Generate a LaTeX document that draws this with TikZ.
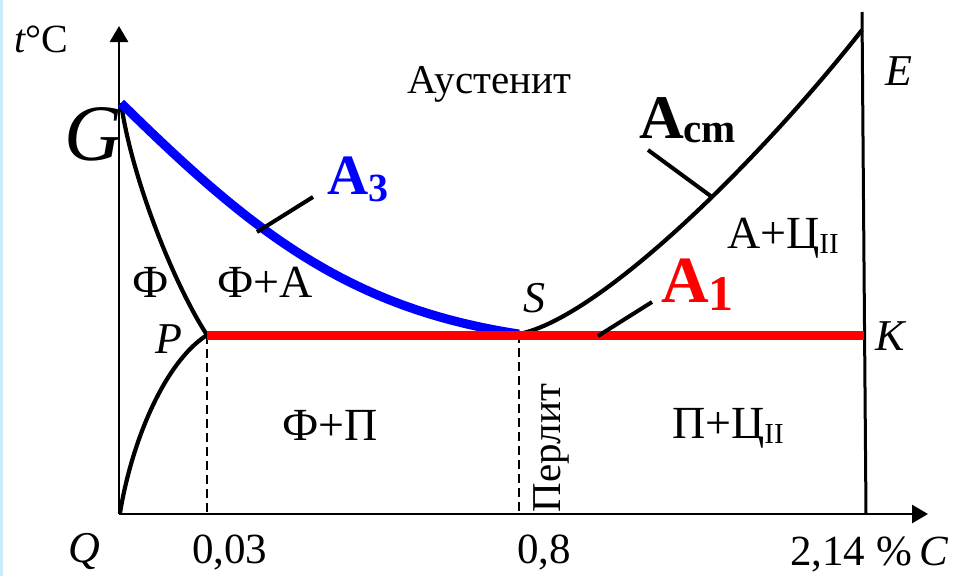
\documentclass[tikz,border=0pt]{standalone}
\usepackage{fontspec}
\usepackage{graphicx}
\setmainfont{Liberation Serif}
\usetikzlibrary{arrows.meta}
\newcommand{\fsz}[1]{\fontsize{#1}{#1}\selectfont}
\definecolor{edgeblue}{RGB}{200,236,250}
\definecolor{ablue}{RGB}{0,0,255}
\definecolor{ared}{RGB}{255,0,0}
\begin{document}
\begin{tikzpicture}[x=1pt,y=-1pt,
  axis/.style={line width=2.8pt,-{Triangle[length=16pt,width=18pt]}},
  curve/.style={line width=4.2pt},
  dashline/.style={line width=2.4pt,dash pattern=on 9pt off 5pt},
  thickblue/.style={line width=9pt,ablue},
  thickred/.style={line width=9pt,ared},
  leader/.style={line width=4pt},
  lbl/.style={inner sep=0pt,outer sep=0pt,anchor=base west,font=\fsz{46}},
  nlbl/.style={inner sep=0pt,outer sep=0pt,anchor=base west,font=\fsz{43}},
  ilbl/.style={inner sep=0pt,outer sep=0pt,anchor=base west,font=\fsz{44}\itshape},
  big/.style={inner sep=0pt,outer sep=0pt,anchor=base west}]
\useasboundingbox (0,0) rectangle (975,576);
\fill[white] (0,0) rectangle (975,576);
\fill[edgeblue] (0,0) rectangle (3,576);

% key points
\coordinate (O) at (119,514);
\coordinate (Ytip) at (119,26);
\coordinate (Xtip) at (928,514);
\coordinate (G) at (121,103);
\coordinate (P) at (207,335);
\coordinate (S) at (519,334);
\coordinate (K) at (864,335);
\coordinate (E) at (862,30);
\coordinate (Etop) at (862,12);
\coordinate (Kbot) at (866,514);
\coordinate (Pb) at (207,514);
\coordinate (Sb) at (519,514);
\coordinate (Q) at (120,513);

% axes
\draw[axis] (O) -- (Ytip);
\draw[axis] (O) -- (Xtip);

% dashed verticals
\draw[dashline] (P) -- (Pb);
\draw[dashline] (S) -- (Sb);

% black lines
\draw[curve] (G) .. controls (132,180) and (175,286) .. (P);
\draw[curve] (Q) .. controls (132,440) and (165,362) .. (P);
\draw[curve] (S) .. controls (600,318) and (760,160) .. (E);
\draw[line width=3pt] (Etop) -- (Kbot);

% A3 and A1
\draw[thickblue] (G) .. controls (252,232) and (348,308) .. (S);
\draw[thickred] (P) -- (K);

% leaders
\coordinate (l3a) at (257,232); \coordinate (l3b) at (313,197);
\coordinate (lca) at (648,150); \coordinate (lcb) at (712,197);
\coordinate (l1a) at (598,336); \coordinate (l1b) at (652,302);
\draw[leader] (l3a) -- (l3b);
\draw[leader] (lca) -- (lcb);
\draw[leader] (l1a) -- (l1b);

% labels
\node[big,font=\fsz{40}] (tC) at (14,52) {\textit{t}°C};
\node[big,font=\fsz{80}\itshape] (Glbl) at (64,160) {G};
\node[big,font=\fsz{41}] (aus) at (407,93) {Аустенит};
\node[big,font=\fsz{57}\bfseries,text=ablue] (A3) at (327,194) {A\raisebox{-7pt}{\fsz{40}3}};
\node[big,font=\fsz{62}\bfseries] (Acm) at (639,138) {A\raisebox{-4pt}{\fsz{41}cm}};
\node[big,font=\fsz{66}\bfseries,text=ared] (A1) at (661,302) {A\raisebox{-8pt}{\fsz{50}1}};
\node[lbl] (AC) at (727,248) {А+Ц\raisebox{-5pt}{\fsz{29}II}};
\node[lbl] (F) at (132,297) {Ф};
\node[lbl] (FA) at (217,297) {Ф+А};
\node[ilbl] (Plbl) at (155,353) {P};
\node[ilbl] (Slbl) at (523,312) {S};
\node[ilbl] (Klbl) at (875,350) {K};
\node[ilbl] (Elbl) at (885,85) {E};
\node[lbl] (FP) at (282,440) {Ф+П};
\node[lbl] (PC) at (672,438) {П+Ц\raisebox{-5pt}{\fsz{29}II}};
\node[inner sep=0pt,rotate=90,font=\fsz{41}] (perl) at (551,448) {Перлит};
\node[ilbl] (Qlbl) at (68,562) {Q};
\node[nlbl] (x1) at (192,563) {0,03};
\node[nlbl] (x2) at (517,563) {0,8};
\node[nlbl] (x3) at (790,565) {2,14\hspace{11pt}\%\hspace{7pt}\textit{C}};
\end{tikzpicture}
\end{document}
